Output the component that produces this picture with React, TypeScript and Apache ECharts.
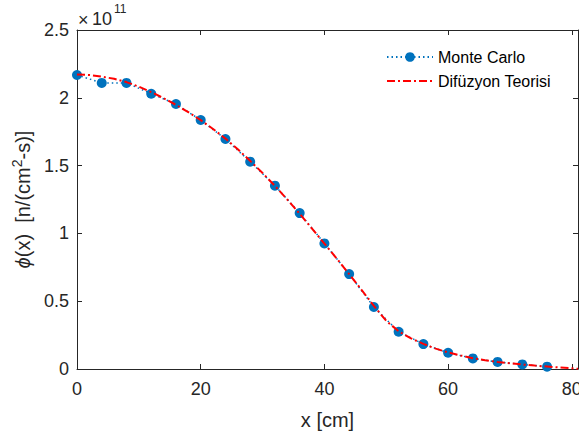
import React, { useEffect, useRef } from "react";
import * as echarts from "echarts";

// Values in units of 1e11 n/(cm^2-s)
const mcX = [0, 4, 8, 12, 16, 20, 24, 28, 32, 36, 40, 44, 48, 52, 56, 60, 64, 68, 72, 76];
const mcY = [2.168, 2.11, 2.11, 2.03, 1.954, 1.836, 1.696, 1.529, 1.352, 1.15, 0.926, 0.7, 0.457, 0.275, 0.184, 0.12, 0.078, 0.052, 0.034, 0.017];

const diffX = [0, 2, 4, 6, 8, 10, 12, 14, 16, 18, 20, 22, 24, 26, 28, 30, 32, 34, 36, 38, 40, 42, 44, 46, 48, 50, 52, 54, 56, 58, 60, 62, 64, 66, 68, 70, 72, 74, 76, 78, 80, 81];
const diffY = [2.172, 2.168, 2.156, 2.14, 2.116, 2.082, 2.042, 1.997, 1.948, 1.894, 1.835, 1.77, 1.699, 1.62, 1.535, 1.445, 1.35, 1.25, 1.145, 1.035, 0.925, 0.814, 0.7, 0.584, 0.465, 0.355, 0.278, 0.226, 0.185, 0.15, 0.122, 0.1, 0.08, 0.065, 0.052, 0.042, 0.033, 0.025, 0.018, 0.011, 0.005, 0.002];

const xTicks = [0, 20, 40, 60, 80];
const yTicks = [0, 0.5, 1, 1.5, 2, 2.5];

const FONT = "'Liberation Sans', Arial, Helvetica, sans-serif";
const TXT = "#262626";

export default function App() {
  const ref = useRef<HTMLDivElement>(null);
  useEffect(() => {
    if (!ref.current) return;
    const chart = echarts.init(ref.current, undefined, { renderer: "svg" });
    const axisLine = { show: true, onZero: false, lineStyle: { color: TXT, width: 1 } };
    chart.setOption({
      animation: false,
      backgroundColor: "#ffffff",
      textStyle: { fontFamily: FONT, color: TXT },
      grid: { left: 77, top: 30, width: 501, height: 339, containLabel: false, outerBoundsMode: "none" },
      legend: {
        orient: "vertical",
        left: 381,
        top: 44,
        itemWidth: 46,
        itemHeight: 12,
        itemGap: 8,
        textStyle: { fontFamily: FONT, fontSize: 16, color: "#000" },
        data: [
          { name: "Monte Carlo" },
          { name: "Difüzyon Teorisi", itemStyle: { opacity: 0 } },
        ],
      },
      graphic: [
        {
          type: "text",
          left: 78,
          top: 11,
          style: { text: "×", font: `18px ${FONT}`, fill: TXT },
        },
        {
          type: "text",
          left: 92,
          top: 10,
          style: { text: "10", font: `18px ${FONT}`, fill: TXT },
        },
        {
          type: "text",
          left: 114,
          top: 3,
          style: { text: "11", font: `12px ${FONT}`, fill: TXT },
        },
      ],
      xAxis: [
        {
          type: "value",
          position: "bottom",
          min: 0,
          max: 81,
          interval: 20,
          name: "x [cm]",
          nameLocation: "middle",
          nameGap: 41,
          nameTextStyle: { fontFamily: FONT, fontSize: 20, color: TXT },
          axisLine,
          axisTick: { show: true, inside: true, length: 5, customValues: xTicks, lineStyle: { color: TXT } },
          axisLabel: { show: true, margin: 11, fontSize: 18, color: TXT, fontFamily: FONT, customValues: xTicks, formatter: (v: number) => String(v) },
          splitLine: { show: false },
        },
        {
          type: "value",
          position: "top",
          min: 0,
          max: 81,
          interval: 20,
          axisLine,
          axisTick: { show: true, inside: true, length: 5, customValues: xTicks, lineStyle: { color: TXT } },
          axisLabel: { show: false },
          splitLine: { show: false },
        },
      ],
      yAxis: [
        {
          type: "value",
          position: "left",
          min: 0,
          max: 2.5,
          interval: 0.5,
          name: "{i|ϕ}{a|(x)  [n/(cm}{s|2}{a|-s)]}",
          nameLocation: "middle",
          nameGap: 33,
          nameTextStyle: {
            fontFamily: FONT,
            fontSize: 20,
            color: TXT,
            rich: {
              a: { fontFamily: FONT, fontSize: 20, color: TXT },
              i: { fontFamily: FONT, fontSize: 20, color: TXT, fontStyle: "italic" },
              s: { fontFamily: FONT, fontSize: 14, color: TXT, padding: [0, 0, 12, 0] },
            },
          },
          axisLine,
          axisTick: { show: true, inside: true, length: 5, customValues: yTicks, lineStyle: { color: TXT } },
          axisLabel: { show: true, margin: 8, fontSize: 18, color: TXT, fontFamily: FONT, customValues: yTicks, formatter: (v: number) => String(v) },
          splitLine: { show: false },
        },
        {
          type: "value",
          position: "right",
          min: 0,
          max: 2.5,
          interval: 0.5,
          axisLine,
          axisTick: { show: true, inside: true, length: 5, customValues: yTicks, lineStyle: { color: TXT } },
          axisLabel: { show: false },
          splitLine: { show: false },
        },
      ],
      series: [
        {
          name: "Monte Carlo",
          type: "line",
          xAxisIndex: 0,
          yAxisIndex: 0,
          data: mcX.map((x, i) => [x, mcY[i]]),
          symbol: "circle",
          symbolSize: 10,
          showAllSymbol: true,
          itemStyle: { color: "#0072BD" },
          lineStyle: { color: "#0072BD", width: 1.5, type: [1.5, 3] },
          z: 2,
        },
        {
          name: "Difüzyon Teorisi",
          type: "line",
          xAxisIndex: 0,
          yAxisIndex: 0,
          data: diffX.map((x, i) => [x, diffY[i]]),
          symbol: "none",
          smooth: false,
          itemStyle: { color: "#FF0000" },
          lineStyle: { color: "#FF0000", width: 2, type: [8, 3, 2, 3] },
          z: 3,
        },
      ],
    });
    return () => chart.dispose();
  }, []);
  return (
    <div
      ref={ref}
      style={{ position: "fixed", left: 0, top: 0, width: 579, height: 435, background: "#fff" }}
    />
  );
}
